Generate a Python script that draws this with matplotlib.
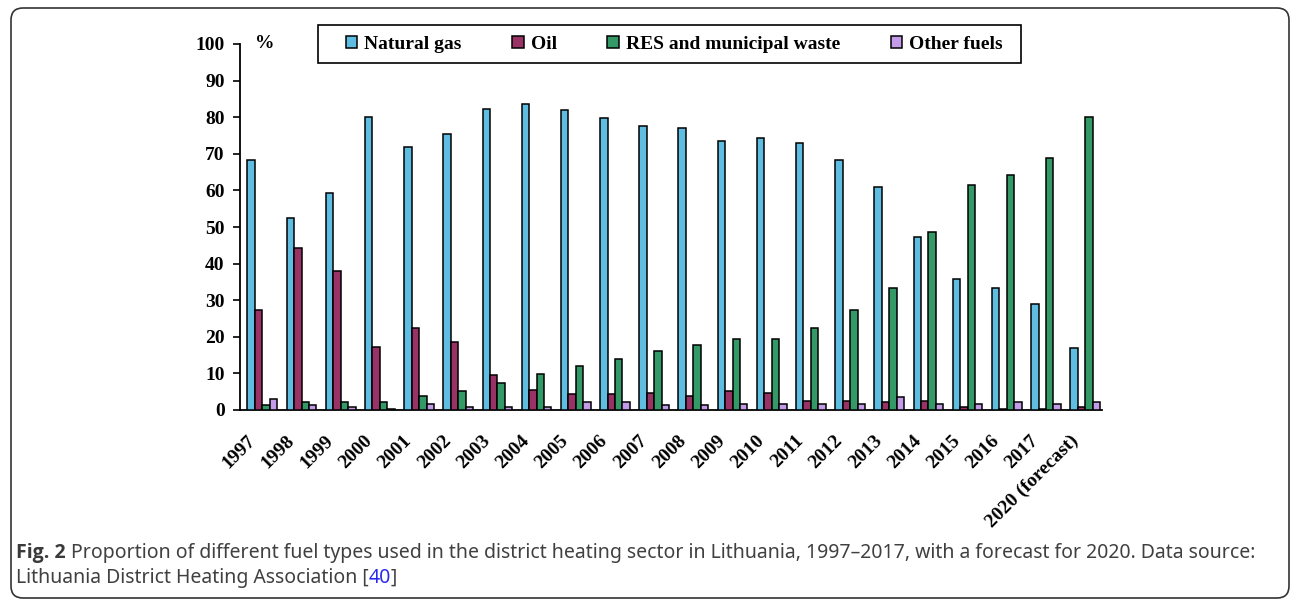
import matplotlib
matplotlib.use("Agg")
import matplotlib.pyplot as plt
import numpy as np
from matplotlib.patches import FancyBboxPatch, Rectangle
from matplotlib.transforms import ScaledTranslation
from matplotlib.font_manager import FontProperties

years = ["1997", "1998", "1999", "2000", "2001", "2002", "2003", "2004", "2005",
         "2006", "2007", "2008", "2009", "2010", "2011", "2012", "2013", "2014",
         "2015", "2016", "2017", "2020 (forecast)"]
natural_gas = [68.4, 52.5, 59.3, 80.1, 71.9, 75.4, 82.2, 83.6, 81.9, 79.7, 77.6, 77.0,
               73.5, 74.4, 73.0, 68.3, 61.0, 47.3, 35.9, 33.3, 29.0, 16.9]
oil = [27.3, 44.3, 38.1, 17.3, 22.5, 18.7, 9.5, 5.6, 4.4, 4.4, 4.7, 3.9,
       5.2, 4.7, 2.5, 2.5, 2.1, 2.5, 0.9, 0.4, 0.4, 0.9]
res_waste = [1.4, 2.2, 2.1, 2.1, 3.9, 5.2, 7.4, 9.9, 12.1, 13.9, 16.0, 17.8,
             19.5, 19.5, 22.5, 27.3, 33.3, 48.6, 61.5, 64.1, 68.9, 80.0]
other = [3.0, 1.4, 0.9, 0.4, 1.7, 0.9, 0.9, 0.9, 2.1, 2.1, 1.3, 1.3,
         1.7, 1.7, 1.7, 1.7, 3.5, 1.7, 1.7, 2.1, 1.7, 2.1]

series_names = ["Natural gas", "Oil", "RES and municipal waste", "Other fuels"]
series_values = [natural_gas, oil, res_waste, other]
colors = ["#5EBDE0", "#993366", "#339966", "#C39BE8"]

W, H = 1292, 599
fig = plt.figure(figsize=(W / 100, H / 100), dpi=100)

# rounded border (in inches)
border = FancyBboxPatch((0.11, 0.01), 12.89 - 0.11, 5.91 - 0.01,
                        boxstyle="round,pad=0,rounding_size=0.12",
                        transform=fig.dpi_scale_trans, fill=False,
                        edgecolor="#333333", linewidth=1.2, clip_on=False)
fig.patches.append(border)

ax = fig.add_axes([240 / W, (H - 410) / H, (1102 - 240) / W, (410 - 44) / H])

x = np.arange(len(years))
bw = 0.19
offset = 0.07
for i, (name, vals, c) in enumerate(zip(series_names, series_values, colors)):
    ax.bar(x + offset + (i - 1.5) * bw, vals, width=bw, color=c,
           edgecolor="black", linewidth=1.1, label=name, zorder=3)

ax.set_xlim(-0.5, len(years) - 0.5)
ax.set_ylim(0, 100)
ax.set_yticks(np.arange(0, 101, 10))
ax.spines["top"].set_visible(False)
ax.spines["right"].set_visible(False)
ax.spines["left"].set_linewidth(1.3)
ax.spines["bottom"].set_linewidth(1.3)

tick_font = dict(family="Liberation Serif", weight="bold", size=14)
ax.tick_params(axis="y", direction="out", length=5, width=1.2, pad=6)
for lab in ax.get_yticklabels():
    lab.set_fontproperties(FontProperties(**tick_font))

ax.set_xticks(x + offset)
ax.set_xticklabels(years, rotation=45, ha="right", va="top",
                   rotation_mode="anchor", **tick_font)
ax.tick_params(axis="x", length=0, pad=16)
shift = ScaledTranslation(-16 / 100, 0, fig.dpi_scale_trans)
for lab in ax.get_xticklabels():
    lab.set_transform(lab.get_transform() + shift)

ax.text(0.017, 1.0, "%", transform=ax.transAxes, ha="left", va="center",
        **tick_font)

# legend box frame
fig.patches.append(Rectangle((318 / W, (H - 63) / H), (1021 - 318) / W, 38 / H,
                             transform=fig.transFigure, fill=True,
                             facecolor="white", edgecolor="black",
                             linewidth=1.2, zorder=4))
leg = fig.legend(loc="upper left", bbox_to_anchor=(335 / W, (H - 25) / H),
                 ncol=4, frameon=False,
                 prop=dict(family="Liberation Serif", weight="bold", size=14),
                 handlelength=0.6, handleheight=0.6, handletextpad=0.35,
                 columnspacing=2.6, borderpad=0.55, borderaxespad=0)
leg.set_zorder(5)

# caption
cap_font = dict(family="Noto Sans", size=14, color="#404040")
t1 = fig.text(16 / W, (H - 558) / H, "Fig. 2", ha="left", va="baseline",
              family=["Open Sans", "Noto Sans"], weight="bold", size=14,
              color="#3a3a3a")
fig.canvas.draw()
t2 = ax.annotate(" Proportion of different fuel types used in the district heating sector in Lithuania, 1997\u20132017, with a forecast for 2020. Data source:",
                 xy=(1, 0), xycoords=t1, va="bottom", ha="left",
                 annotation_clip=False, **cap_font)
l2 = fig.text(16 / W, (H - 583) / H, "Lithuania District Heating Association [",
              ha="left", va="baseline", **cap_font)
fig.canvas.draw()
l3 = ax.annotate("40", xy=(1, 0), xycoords=l2, va="bottom", ha="left",
                 annotation_clip=False, family="Noto Sans", size=14,
                 color="#2a2aee")
fig.canvas.draw()
ax.annotate("]", xy=(1, 0), xycoords=l3, va="bottom", ha="left",
            annotation_clip=False, **cap_font)

fig.savefig("out.png", dpi=100)
